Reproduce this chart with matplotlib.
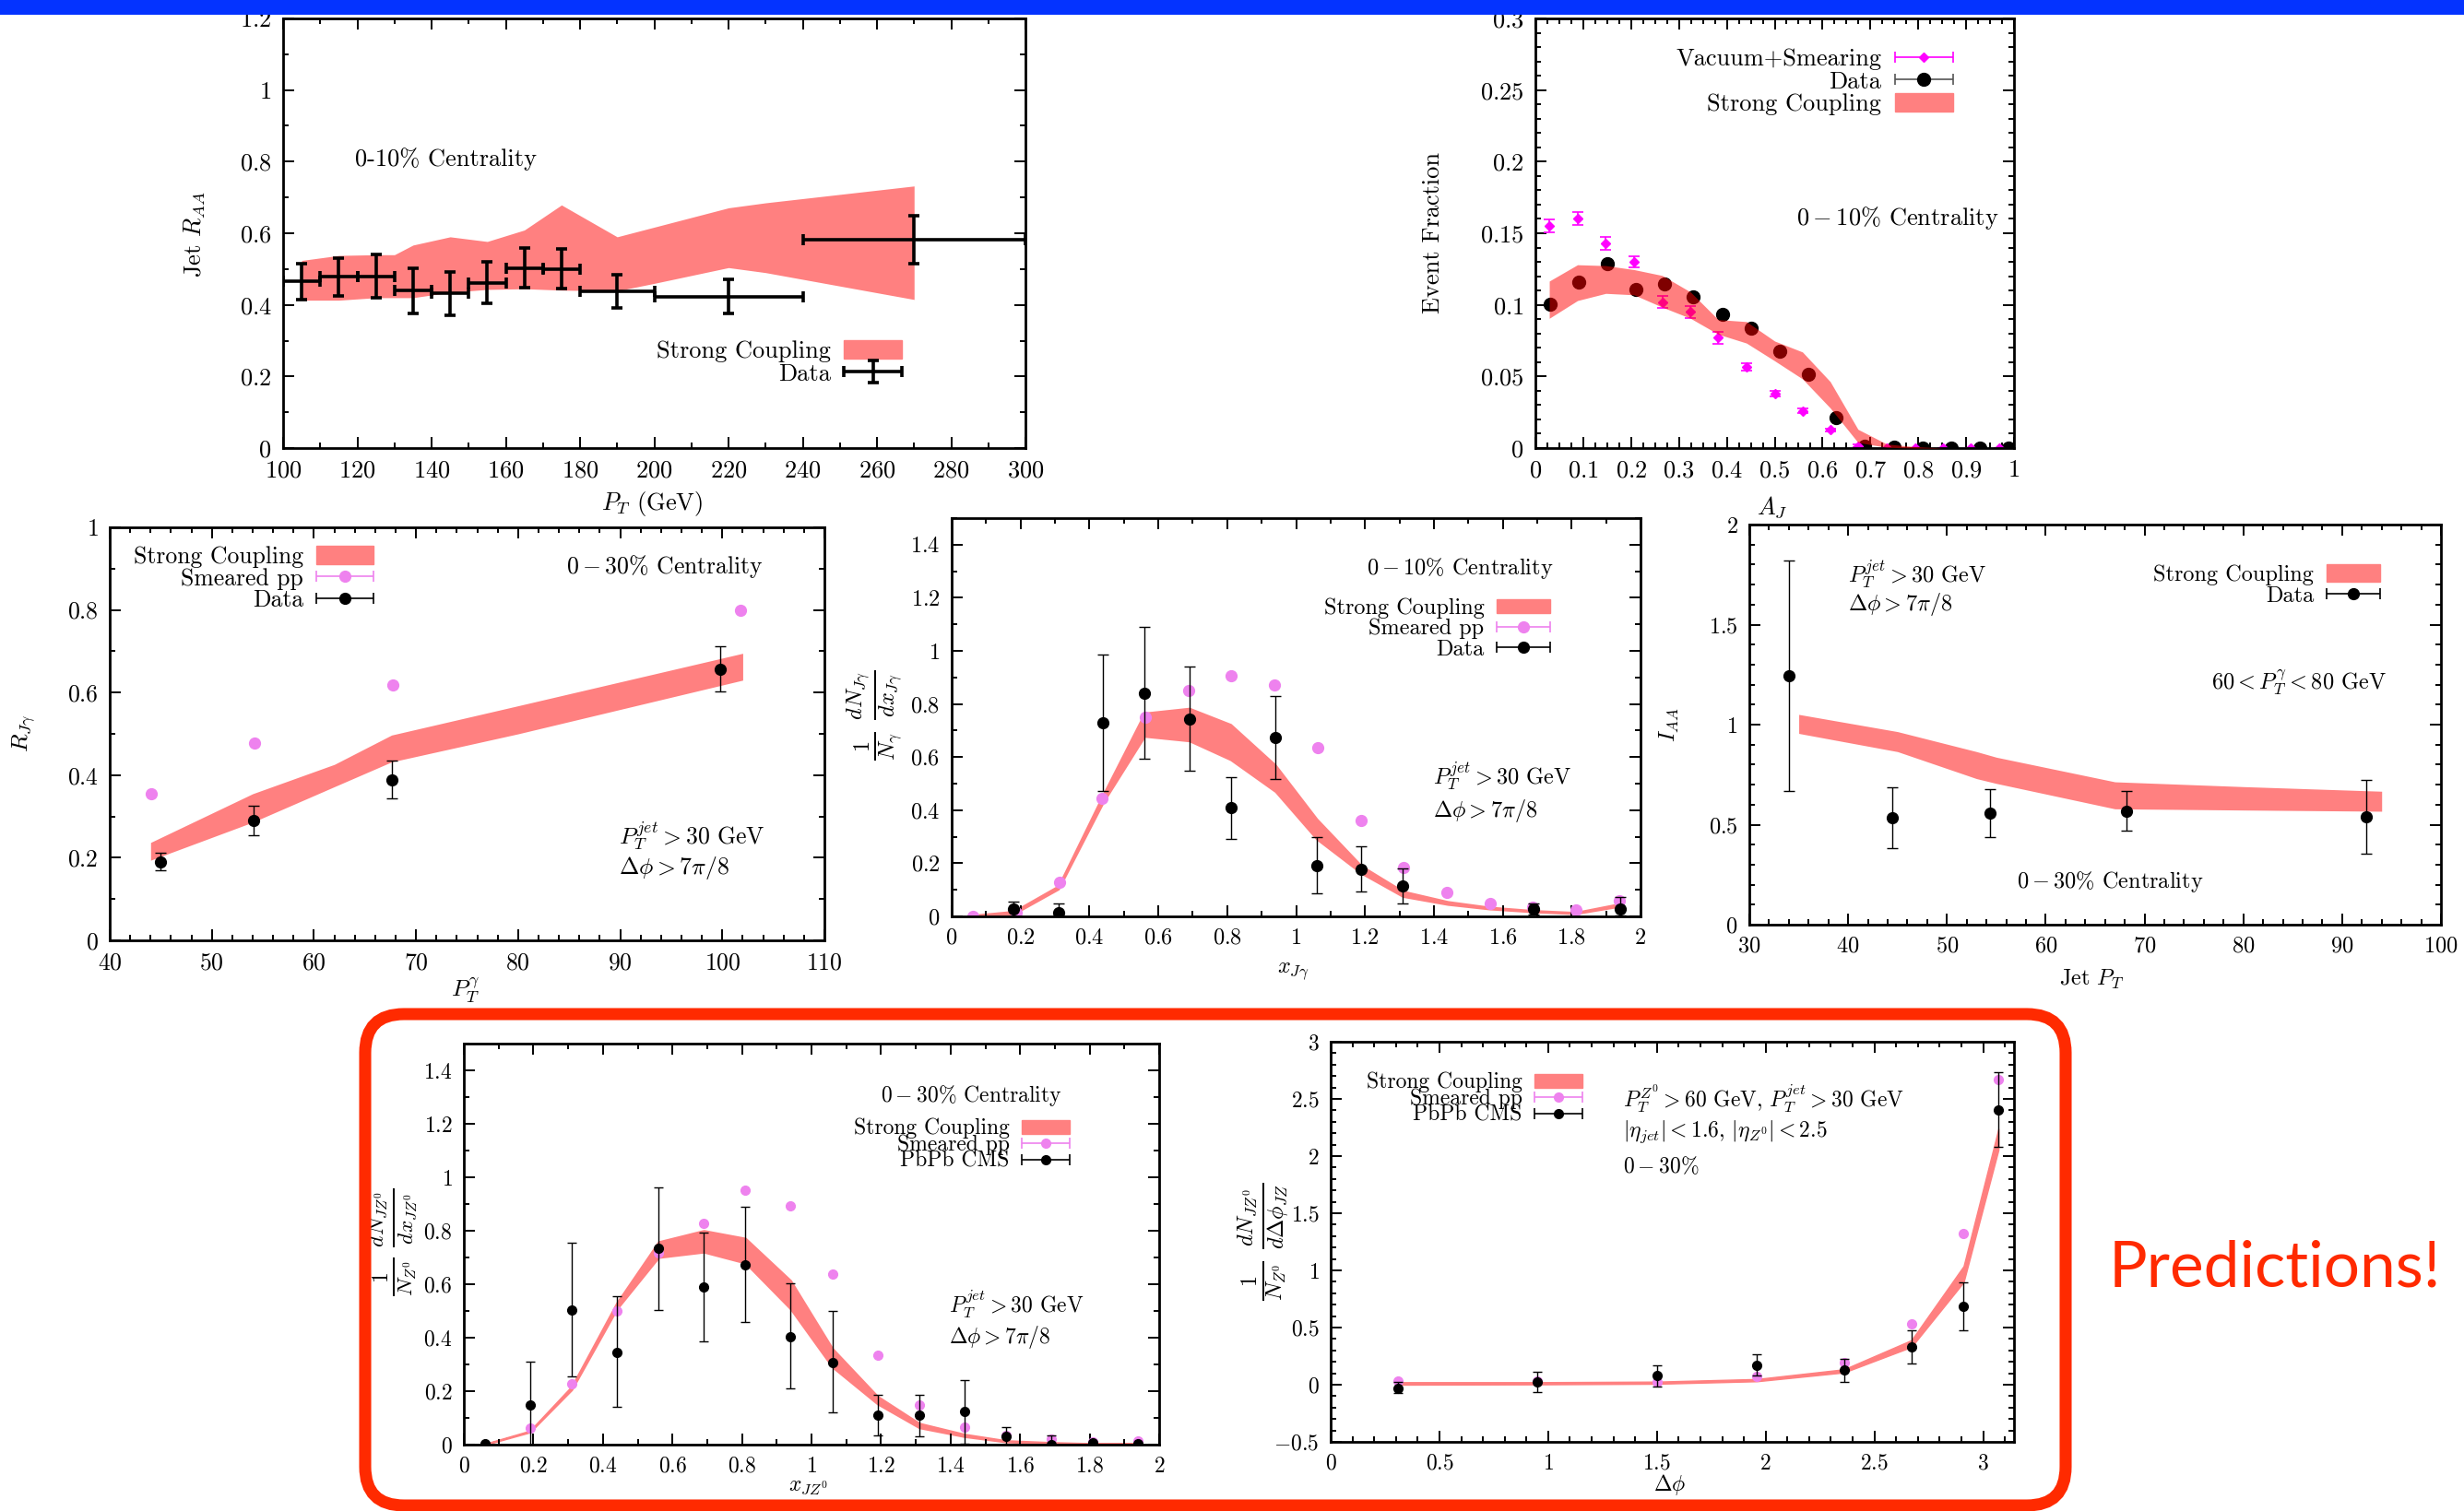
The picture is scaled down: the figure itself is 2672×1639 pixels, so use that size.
import numpy as np
import matplotlib
matplotlib.use('Agg')
import matplotlib.pyplot as plt
import matplotlib.patches as mpatches
from matplotlib.ticker import MultipleLocator, FuncFormatter
from matplotlib.container import ErrorbarContainer
from matplotlib.legend_handler import HandlerErrorbar
from matplotlib.transforms import IdentityTransform

plt.rcParams['font.family'] = 'cmr10'
plt.rcParams['mathtext.fontset'] = 'cm'
plt.rcParams['axes.formatter.use_mathtext'] = True

# ---- jet R_AA vs P_T (top left)
raa_band_x = [105, 115, 125, 130, 135, 145, 155, 165, 175, 190, 200, 220, 230, 270]
raa_band_lo = [0.413, 0.413, 0.42, 0.42, 0.42, 0.435, 0.443, 0.445, 0.441, 0.439, 0.46, 0.504, 0.49, 0.415]
raa_band_hi = [0.524, 0.538, 0.54, 0.54, 0.567, 0.59, 0.577, 0.609, 0.679, 0.59, 0.617, 0.671, 0.685, 0.732]
raa_x = [105, 115, 125, 135, 145, 155, 165, 175, 190, 220, 270]
raa_y = [0.465, 0.478, 0.48, 0.44, 0.432, 0.462, 0.503, 0.5, 0.437, 0.423, 0.582]
raa_xerr = [5, 5, 5, 5, 5, 5, 5, 5, 10, 20, 30]
raa_yerr = [0.05, 0.052, 0.061, 0.063, 0.06, 0.057, 0.055, 0.055, 0.046, 0.047, 0.066]

# ---- A_J event fraction (top right)
aj_vac_x = [0.029, 0.088, 0.147, 0.206, 0.265, 0.324, 0.382, 0.441, 0.5, 0.558, 0.616, 0.674, 0.734, 0.793, 0.852, 0.91, 0.97]
aj_vac_y = [0.155, 0.16, 0.143, 0.13, 0.102, 0.095, 0.077, 0.0566, 0.038, 0.026, 0.0126, 0.0016, 0.0, 0.0, 0.0, 0.0, 0.0]
aj_vac_err = [0.0045, 0.0045, 0.0045, 0.004, 0.004, 0.004, 0.004, 0.0025, 0.002, 0.0015, 0.001, 0.0008, 0, 0, 0, 0, 0]
aj_data_x = [0.03, 0.09, 0.151, 0.21, 0.27, 0.33, 0.391, 0.451, 0.51, 0.57, 0.629, 0.688, 0.749, 0.81, 0.869, 0.928, 0.989]
aj_data_y = [0.1005, 0.116, 0.1285, 0.111, 0.1147, 0.1055, 0.0933, 0.084, 0.0676, 0.0515, 0.0211, 0.0016, 0.0005, 0.0, 0.0, 0.0, 0.0]
aj_band_x = [0.029, 0.088, 0.147, 0.206, 0.265, 0.324, 0.382, 0.441, 0.5, 0.558, 0.616, 0.674, 0.734, 0.793, 0.852]
aj_band_lo = [0.0906, 0.103, 0.108, 0.107, 0.0984, 0.0906, 0.0795, 0.0733, 0.0609, 0.0483, 0.028, 0.0039, 0.0005, 0.0, 0.0]
aj_band_hi = [0.1166, 0.128, 0.1274, 0.1246, 0.1205, 0.109, 0.0897, 0.0883, 0.0747, 0.0671, 0.0464, 0.0131, 0.0028, 0.001, 0.0]

# ---- R_Jgamma vs P_T^gamma (middle left)
rjg_band_x = [44, 54, 62, 67.6, 80, 102]
rjg_band_lo = [0.194, 0.286, 0.372, 0.432, 0.50, 0.63]
rjg_band_hi = [0.237, 0.355, 0.426, 0.497, 0.568, 0.695]
rjg_pp_x = [44.1, 54.2, 67.7, 101.8]
rjg_pp_y = [0.355, 0.477, 0.618, 0.798]
rjg_x = [45.0, 54.05, 67.6, 99.8]
rjg_y = [0.19, 0.29, 0.389, 0.657]
rjg_lo = [0.02, 0.035, 0.046, 0.055]
rjg_hi = [0.021, 0.035, 0.046, 0.056]

# ---- x_Jgamma distribution (middle)
xjg_band_x = [0.05, 0.18, 0.31, 0.44, 0.56, 0.69, 0.81, 0.94, 1.06, 1.19, 1.31, 1.44, 1.56, 1.69, 1.81, 1.94]
xjg_band_lo = [0.0, 0.009, 0.103, 0.43, 0.678, 0.661, 0.59, 0.47, 0.291, 0.162, 0.075, 0.045, 0.028, 0.017, 0.01, 0.038]
xjg_band_hi = [0.003, 0.019, 0.115, 0.46, 0.766, 0.784, 0.723, 0.57, 0.367, 0.19, 0.095, 0.056, 0.035, 0.022, 0.015, 0.048]
xjg_pp_x = [0.0625, 0.1875, 0.3125, 0.4375, 0.5625, 0.6875, 0.8125, 0.9375, 1.0625, 1.1875, 1.3125, 1.4375, 1.5625, 1.6875, 1.8125, 1.9375]
xjg_pp_y = [0.0, 0.015, 0.127, 0.446, 0.751, 0.849, 0.907, 0.872, 0.634, 0.361, 0.183, 0.09, 0.048, 0.033, 0.023, 0.059]
xjg_x = [0.18, 0.31, 0.44, 0.56, 0.69, 0.81, 0.94, 1.06, 1.19, 1.31, 1.69, 1.94]
xjg_y = [0.029, 0.014, 0.729, 0.84, 0.743, 0.408, 0.674, 0.191, 0.177, 0.115, 0.027, 0.027]
xjg_lo = [0.029, 0.014, 0.258, 0.247, 0.196, 0.118, 0.156, 0.105, 0.083, 0.065, 0.02, 0.025]
xjg_hi = [0.027, 0.036, 0.256, 0.252, 0.197, 0.118, 0.157, 0.106, 0.087, 0.067, 0.02, 0.045]

# ---- I_AA vs jet P_T (middle right)
iaa_band_x = [35, 45, 53, 55, 67, 80, 94]
iaa_band_lo = [0.956, 0.865, 0.73, 0.706, 0.579, 0.573, 0.567]
iaa_band_hi = [1.051, 0.965, 0.865, 0.837, 0.714, 0.69, 0.667]
iaa_x = [34, 44.5, 54.4, 68.2, 92.4]
iaa_y = [1.243, 0.535, 0.557, 0.567, 0.54]
iaa_lo = [0.576, 0.151, 0.12, 0.099, 0.183]
iaa_hi = [0.577, 0.152, 0.122, 0.103, 0.182]

# ---- x_JZ0 distribution (bottom left, predictions)
xjz_band_x = [0.06, 0.19, 0.31, 0.44, 0.56, 0.69, 0.81, 0.94, 1.06, 1.19, 1.31, 1.44, 1.56, 1.69, 1.81, 1.94]
xjz_band_lo = [0.0, 0.047, 0.205, 0.507, 0.70, 0.72, 0.679, 0.507, 0.29, 0.152, 0.063, 0.03, 0.01, 0.005, 0.003, 0.003]
xjz_band_hi = [0.002, 0.051, 0.217, 0.531, 0.759, 0.801, 0.772, 0.614, 0.36, 0.181, 0.08, 0.039, 0.015, 0.008, 0.004, 0.004]
xjz_pp_x = [0.06, 0.19, 0.31, 0.44, 0.56, 0.69, 0.81, 0.94, 1.06, 1.19, 1.31, 1.44, 1.56, 1.69, 1.81, 1.94]
xjz_pp_y = [0.0, 0.062, 0.228, 0.501, 0.718, 0.827, 0.951, 0.894, 0.638, 0.334, 0.149, 0.064, 0.036, 0.02, 0.012, 0.015]
xjz_x = [0.06, 0.19, 0.31, 0.44, 0.56, 0.69, 0.81, 0.94, 1.06, 1.19, 1.31, 1.44, 1.56, 1.69, 1.81, 1.94]
xjz_y = [0.004, 0.149, 0.504, 0.346, 0.734, 0.589, 0.674, 0.405, 0.308, 0.109, 0.109, 0.123, 0.03, 0.0, 0.006, 0.004]
xjz_lo = [0.004, 0.149, 0.248, 0.206, 0.23, 0.203, 0.215, 0.194, 0.188, 0.076, 0.078, 0.119, 0.03, 0.0, 0.006, 0.004]
xjz_hi = [0.004, 0.16, 0.25, 0.209, 0.229, 0.203, 0.217, 0.2, 0.191, 0.076, 0.078, 0.118, 0.034, 0.033, 0.006, 0.004]

# ---- delta phi distribution (bottom right, predictions)
dphi_band_x = [0.31, 0.95, 1.5, 1.96, 2.36, 2.67, 2.91, 3.07]
dphi_band_lo = [0.0, 0.003, 0.008, 0.03, 0.107, 0.33, 0.897, 2.054]
dphi_band_hi = [0.022, 0.022, 0.027, 0.05, 0.135, 0.39, 1.038, 2.238]
dphi_pp_x = [0.31, 0.95, 1.5, 1.96, 2.36, 2.67, 2.91, 3.07]
dphi_pp_y = [0.031, 0.03, 0.028, 0.073, 0.19, 0.53, 1.326, 2.667]
dphi_x = [0.31, 0.95, 1.5, 1.96, 2.36, 2.67, 2.91, 3.07]
dphi_y = [-0.029, 0.028, 0.079, 0.172, 0.127, 0.333, 0.685, 2.401]
dphi_lo = [0.042, 0.091, 0.094, 0.093, 0.099, 0.147, 0.206, 0.319]
dphi_hi = [0.051, 0.084, 0.09, 0.098, 0.101, 0.141, 0.212, 0.331]

BAND = '#ff8080'
VIOLET = '#ee82ee'
MAGENTA = '#ff00ff'
RED = '#ff2a00'
BLUE = '#0433ff'

W, H = 2672, 1639
fig = plt.figure(figsize=(W / 100, H / 100), dpi=100)
tickfmt = FuncFormatter(lambda v, p: f'${v:g}$')


def axes_px(box):
    l, t, r, b = box
    return fig.add_axes([l / W, 1 - b / H, (r - l) / W, (b - t) / H])


def style(ax, box, xlim, ylim, xt, yt, fs, xlab, ylab, xl_c, yl_c, yfs=None):
    ax.set_xlim(*xlim)
    ax.set_ylim(*ylim)
    ax.xaxis.set_major_locator(MultipleLocator(xt[0]))
    ax.xaxis.set_minor_locator(MultipleLocator(xt[1]))
    ax.yaxis.set_major_locator(MultipleLocator(yt[0]))
    ax.yaxis.set_minor_locator(MultipleLocator(yt[1]))
    ax.xaxis.set_major_formatter(tickfmt)
    ax.yaxis.set_major_formatter(tickfmt)
    ax.tick_params(which='both', direction='in', top=True, right=True, width=1.4,
                   labelsize=fs, pad=9)
    ax.tick_params(which='major', length=8.5)
    ax.tick_params(which='minor', length=4.5)
    for s in ax.spines.values():
        s.set_linewidth(2.0)
    l, t, r, b = box
    ax.set_xlabel(xlab, fontsize=fs)
    ax.set_ylabel(ylab, fontsize=yfs or fs)
    ax.xaxis.set_label_coords((xl_c[0] - l) / (r - l), (b - xl_c[1]) / (b - t))
    ax.yaxis.set_label_coords((yl_c[0] - l) / (r - l), (b - yl_c[1]) / (b - t))
    ax.xaxis.label.set_va('center')
    ax.yaxis.label.set_va('center')


def eb_proxy(ax, marker, color, ms, lc, lw=1.2):
    return ax.errorbar([np.nan], [np.nan], xerr=[1.0], fmt=marker, color=color, ms=ms,
                       ecolor=lc, elinewidth=lw, capsize=4, capthick=lw)


def legend(ax, handles, labels, anchor, fs, hl=2.4, hh=0.8, ls=0.0, yerr=None):
    ax.legend(handles, labels, loc='upper right', bbox_to_anchor=anchor, frameon=False,
              markerfirst=False, fontsize=fs, handlelength=hl, handleheight=hh,
              labelspacing=ls, handletextpad=0.55, borderpad=0, borderaxespad=0,
              handler_map={ErrorbarContainer: HandlerErrorbar(xerr_size=hl / 2, yerr_size=yerr)})


def txt(ax, x, y, s, fs, ha='left'):
    ax.text(x, y, s, transform=ax.transAxes, fontsize=fs, ha=ha, va='center')


# ---------------- panel 1
box = (307, 20, 1112, 486)
ax = axes_px(box)
band = ax.fill_between(raa_band_x, raa_band_lo, raa_band_hi, color=BAND, lw=0)
data = ax.errorbar(raa_x, raa_y, xerr=raa_xerr, yerr=raa_yerr, fmt='none', ecolor='black',
                   elinewidth=2.6, capsize=4, capthick=2.6)
style(ax, box, (100, 300), (0, 1.2), (20, 10), (0.2, 0.1), 19, '$P_T$ (GeV)', 'Jet $R_{AA}$',
      (707, 546), (211, 254))
legend(ax, [mpatches.Patch(color=BAND), data], ['Strong Coupling', 'Data'], (0.834, 0.251), 19,
       yerr=0.45)
txt(ax, 0.097, 0.672, '0-10% Centrality', 19)

# ---------------- panel 2
box = (1665, 20, 2184, 486)
ax = axes_px(box)
ax.errorbar(aj_vac_x, aj_vac_y, yerr=aj_vac_err, fmt='D', color=MAGENTA, ms=5.5, elinewidth=1.2,
            capsize=4, capthick=1.2, zorder=2)
ax.plot(aj_data_x, aj_data_y, 'o', color='black', ms=10, zorder=2)
ax.fill_between(aj_band_x, aj_band_lo, aj_band_hi, color='red', alpha=0.5, lw=0, zorder=3)
style(ax, box, (0, 1), (0, 0.3), (0.1, 0.025), (0.05, 0.01), 19, '$A_J$', 'Event Fraction',
      (1922, 550), (1554, 252))
h1 = eb_proxy(ax, 'D', MAGENTA, 5.5, MAGENTA)
h2 = eb_proxy(ax, 'o', 'black', 10, '#555555')
legend(ax, [h1, h2, mpatches.Patch(color=BAND)], ['Vacuum+Smearing', 'Data', 'Strong Coupling'],
       (0.873, 0.931), 19)
txt(ax, 0.969, 0.536, r'$0-10\%$ Centrality', 19, ha='right')

# ---------------- panel 3
box = (119, 572, 894, 1020)
ax = axes_px(box)
ax.fill_between(rjg_band_x, rjg_band_lo, rjg_band_hi, color=BAND, lw=0)
ax.plot(rjg_pp_x, rjg_pp_y, 'o', color=VIOLET, ms=8.5)
ax.errorbar(rjg_x, rjg_y, yerr=[rjg_lo, rjg_hi], fmt='o', color='black', ms=8.5, elinewidth=1,
            capsize=4, capthick=1)
style(ax, box, (40, 110), (0, 1), (10, 2), (0.2, 0.1), 18.5, r'$P_T^{\gamma}$', r'$R_{J\gamma}$',
      (505, 1074), (26, 795))
h1 = eb_proxy(ax, 'o', VIOLET, 8.5, VIOLET)
h2 = eb_proxy(ax, 'o', 'black', 8.5, 'black')
legend(ax, [mpatches.Patch(color=BAND), h1, h2], ['Strong Coupling', 'Smeared pp', 'Data'],
       (0.369, 0.955), 18.5)
txt(ax, 0.914, 0.906, r'$0-30\%$ Centrality', 18.5, ha='right')
txt(ax, 0.712, 0.252, r'$P_T^{jet} > 30$ GeV', 18.5)
txt(ax, 0.712, 0.176, r'$\Delta\phi > 7\pi/8$', 18.5)

# ---------------- panel 4
box = (1032, 562, 1779, 994)
ax = axes_px(box)
ax.fill_between(xjg_band_x, xjg_band_lo, xjg_band_hi, color=BAND, lw=1.5, edgecolor=BAND)
ax.plot(xjg_pp_x, xjg_pp_y, 'o', color=VIOLET, ms=8.5)
ax.errorbar(xjg_x, xjg_y, yerr=[xjg_lo, xjg_hi], fmt='o', color='black', ms=8.5, elinewidth=1,
            capsize=4, capthick=1)
style(ax, box, (0, 2), (0, 1.5), (0.2, 0.1), (0.2, 0.1), 17.5, r'$x_{J\gamma}$',
      r'$\frac{1}{N_\gamma}\ \frac{dN_{J\gamma}}{dx_{J\gamma}}$', (1402, 1054), (949, 776), yfs=25)
h1 = eb_proxy(ax, 'o', VIOLET, 8.5, VIOLET)
h2 = eb_proxy(ax, 'o', 'black', 8.5, 'black')
legend(ax, [mpatches.Patch(color=BAND), h1, h2], ['Strong Coupling', 'Smeared pp', 'Data'],
       (0.869, 0.80), 17.5, hh=0.6)
txt(ax, 0.873, 0.875, r'$0-10\%$ Centrality', 17.5, ha='right')
txt(ax, 0.699, 0.352, r'$P_T^{jet} > 30$ GeV', 17.5)
txt(ax, 0.699, 0.264, r'$\Delta\phi > 7\pi/8$', 17.5)

# ---------------- panel 5
box = (1897, 569, 2647, 1003)
ax = axes_px(box)
ax.fill_between(iaa_band_x, iaa_band_lo, iaa_band_hi, color=BAND, lw=0)
ax.errorbar(iaa_x, iaa_y, yerr=[iaa_lo, iaa_hi], fmt='o', color='black', ms=8.5, elinewidth=1,
            capsize=4, capthick=1)
style(ax, box, (30, 100), (0, 2), (10, 2), (0.5, 0.1), 17.5, 'Jet $P_T$', '$I_{AA}$',
      (2268, 1062), (1810, 786))
h2 = eb_proxy(ax, 'o', 'black', 8.5, 'black')
legend(ax, [mpatches.Patch(color=BAND), h2], ['Strong Coupling', 'Data'], (0.912, 0.90), 17.5)
txt(ax, 0.143, 0.876, r'$P_T^{jet} > 30$ GeV', 17.5)
txt(ax, 0.143, 0.80, r'$\Delta\phi > 7\pi/8$', 17.5)
txt(ax, 0.921, 0.606, r'$60 < P_T^{\gamma} < 80$ GeV', 17.5, ha='right')
txt(ax, 0.521, 0.106, r'$0-30\%$ Centrality', 17.5, ha='center')

# ---------------- panel 6
box = (503, 1132, 1257, 1567)
ax = axes_px(box)
ax.fill_between(xjz_band_x, xjz_band_lo, xjz_band_hi, color=BAND, lw=1.5, edgecolor=BAND)
ax.plot(xjz_pp_x, xjz_pp_y, 'o', color=VIOLET, ms=7)
ax.errorbar(xjz_x, xjz_y, yerr=[xjz_lo, xjz_hi], fmt='o', color='black', ms=7, elinewidth=1,
            capsize=3.5, capthick=1)
style(ax, box, (0, 2), (0, 1.5), (0.2, 0.1), (0.2, 0.1), 17, r'$x_{JZ^0}$',
      r'$\frac{1}{N_{Z^0}}\ \frac{dN_{JZ^0}}{dx_{JZ^0}}$', (877, 1612), (426, 1347), yfs=24)
h1 = eb_proxy(ax, 'o', VIOLET, 7, VIOLET)
h2 = eb_proxy(ax, 'o', 'black', 7, 'black')
legend(ax, [mpatches.Patch(color=BAND), h1, h2], ['Strong Coupling', 'Smeared pp', 'PbPb CMS'],
       (0.871, 0.814), 17, hl=2.2, hh=0.6, ls=-0.2)
txt(ax, 0.861, 0.871, r'$0-30\%$ Centrality', 17, ha='right')
txt(ax, 0.698, 0.35, r'$P_T^{jet} > 30$ GeV', 17)
txt(ax, 0.698, 0.267, r'$\Delta\phi > 7\pi/8$', 17)

# ---------------- panel 7
box = (1443, 1130, 2184, 1564)
ax = axes_px(box)
ax.fill_between(dphi_band_x, dphi_band_lo, dphi_band_hi, color=BAND, lw=1.0, edgecolor=BAND)
ax.plot(dphi_pp_x, dphi_pp_y, 'o', color=VIOLET, ms=7)
ax.errorbar(dphi_x, dphi_y, yerr=[dphi_lo, dphi_hi], fmt='o', color='black', ms=7, elinewidth=1,
            capsize=3.5, capthick=1)
style(ax, box, (0, np.pi), (-0.5, 3), (0.5, 0.1), (0.5, 0.1), 17, r'$\Delta\phi$',
      r'$\frac{1}{N_{Z^0}}\ \frac{dN_{JZ^0}}{d\Delta\phi_{JZ}}$', (1811, 1610), (1370, 1347), yfs=25)
h1 = eb_proxy(ax, 'o', VIOLET, 7, VIOLET)
h2 = eb_proxy(ax, 'o', 'black', 7, 'black')
legend(ax, [mpatches.Patch(color=BAND), h1, h2], ['Strong Coupling', 'Smeared pp', 'PbPb CMS'],
       (0.368, 0.924), 17, hl=2.2, hh=0.6, ls=-0.2)
txt(ax, 0.428, 0.857, r'$P_T^{Z^0} > 60$ GeV, $P_T^{jet} > 30$ GeV', 17)
txt(ax, 0.428, 0.774, r'$|\eta_{jet}| < 1.6$, $|\eta_{Z^0}| < 2.5$', 17)
txt(ax, 0.428, 0.689, r'$0-30\%$', 17)

# ---------------- slide decorations
fig.add_artist(mpatches.Rectangle((0, 1 - 16 / H), 1, 16 / H, transform=fig.transFigure,
                                  facecolor=BLUE, edgecolor='none', zorder=10))
fig.add_artist(mpatches.FancyBboxPatch((396, 6), 1844, 533,
                                       boxstyle='round,pad=0,rounding_size=42',
                                       transform=IdentityTransform(), facecolor='none',
                                       edgecolor=RED, lw=9.4, zorder=10))
fig.text(2287 / W, 244 / H, 'Predictions!', family='Lato', fontsize=50, color=RED,
         ha='left', va='baseline')

fig.savefig('out.png', dpi=100)
